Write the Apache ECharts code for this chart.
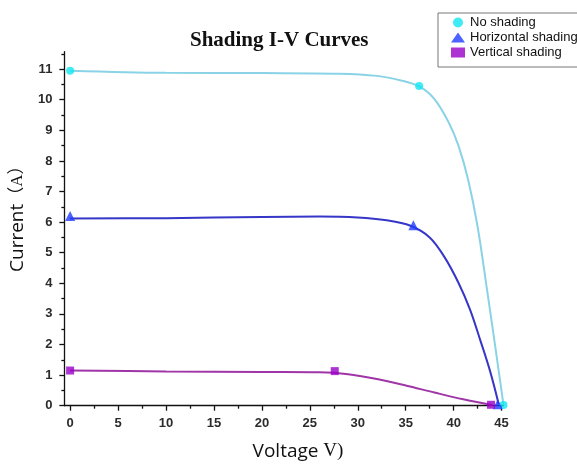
<!DOCTYPE html>
<html>
<head>
<meta charset="utf-8">
<script src="https://cdn.jsdelivr.net/npm/echarts@6/dist/echarts.min.js"></script>
<style>
  html, body { margin: 0; padding: 0; background: #fff; }
  #chart { width: 577px; height: 466px; }
</style>
</head>
<body>
<div id="chart"></div>
<script>
// 坐标刻度
const xTicks = [0, 5, 10, 15, 20, 25, 30, 35, 40, 45]
const xMinorTicks = [2.5, 7.5, 12.5, 17.5, 22.5, 27.5, 32.5, 37.5, 42.5]
const yTicks = [0, 1, 2, 3, 4, 5, 6, 7, 8, 9, 10, 11]
const yMinorTicks = [0.5, 1.5, 2.5, 3.5, 4.5, 5.5, 6.5, 7.5, 8.5, 9.5, 10.5, 11.5]

// 曲线 (读自图片)
const noShadeV = [0, 10, 20, 28, 32, 34.5, 36.5, 38, 39.5, 40.5, 41.5, 42.5, 43.5, 44.4, 45.2]
const noShadeI = [10.95, 10.88, 10.87, 10.85, 10.78, 10.63, 10.42, 10.02, 9.25, 8.5, 7.4, 5.85, 3.75, 1.8, 0.02]
const horizV = [0, 10, 20, 26, 30, 33, 35.5, 37.5, 39, 40.5, 41.7, 42.8, 43.8, 44.7]
const horizI = [6.12, 6.13, 6.17, 6.18, 6.15, 6.06, 5.88, 5.5, 4.88, 4.02, 3.15, 2.12, 1.13, 0.05]
const vertV = [0, 10, 20, 26, 29, 32, 35, 38, 41, 44]
const vertI = [1.15, 1.12, 1.1, 1.09, 1.03, 0.87, 0.66, 0.43, 0.21, 0.02]

// 测量点
const noShadeMarkV = [0, 36.4, 45.2]
const noShadeMarkI = [10.95, 10.45, 0.02]
const horizMarkV = [0, 35.8, 44.6]
const horizMarkI = [6.2, 5.9, 0.05]
const vertMarkV = [0, 27.6, 43.9]
const vertMarkI = [1.15, 1.13, 0.03]

const pairs = (xs, ys) => xs.map((x, i) => [x, ys[i]])

const X_MIN = -0.6
const X_MAX = 45.2
const Y_MIN = 0
const Y_MAX = 11.57
const labelFont = { color: '#2b2b2b', fontSize: 13, fontWeight: 'bold', fontFamily: 'Liberation Sans, Arial, sans-serif' }
const axisColor = '#111'

const myChart = echarts.init(document.getElementById('chart'))

const lineSeries = (data, color) => ({
  type: 'line',
  data: data,
  smooth: 0.35,
  showSymbol: false,
  symbol: 'none',
  lineStyle: { color: color, width: 2 },
  z: 2
})

const markSeries = (name, data, symbol, size, color) => ({
  name: name,
  type: 'scatter',
  data: data,
  symbol: symbol,
  symbolSize: size,
  itemStyle: { color: color },
  clip: false,
  z: 3
})

const option = {
  animation: false,
  backgroundColor: '#fff',
  title: {
    text: 'Shading I-V Curves',
    left: 190,
    top: 30,
    padding: 0,
    textStyle: { fontFamily: 'Liberation Serif, Times New Roman, serif', fontWeight: 'bold', fontSize: 21, color: '#111' }
  },
  legend: {
    orient: 'vertical',
    left: 438,
    top: 13,
    padding: [3, 10, 8, 13],
    itemGap: 2,
    itemWidth: 14,
    itemHeight: 10,
    backgroundColor: '#fff',
    borderColor: '#777',
    borderWidth: 1,
    borderRadius: 0,
    textStyle: { fontSize: 13, color: '#111', fontFamily: 'Liberation Sans, Arial, sans-serif' },
    data: ['No shading', 'Horizontal shading', 'Vertical shading']
  },
  grid: { left: 64, right: 73.5, top: 51.7, bottom: 60.3, containLabel: false },
  xAxis: [{
    type: 'value',
    min: X_MIN,
    max: X_MAX,
    name: '{a|Voltage}{b| V)}',
    nameLocation: 'middle',
    nameGap: 36,
    nameTextStyle: {
      padding: [0, 0, 0, 28],
      rich: {
        a: { fontFamily: 'Open Sans, Liberation Sans, sans-serif', fontSize: 19, color: '#111' },
        b: { fontFamily: 'Liberation Serif, serif', fontSize: 19, color: '#111' }
      }
    },
    axisLine: { show: true, onZero: false, lineStyle: { color: axisColor, width: 1.3 } },
    axisTick: { show: true, length: 5, customValues: xTicks, lineStyle: { color: axisColor, width: 1.3 } },
    axisLabel: { margin: 11, customValues: xTicks, ...labelFont },
    splitLine: { show: false }
  }, {
    type: 'value',
    min: X_MIN,
    max: X_MAX,
    position: 'bottom',
    axisLine: { show: false, onZero: false },
    axisTick: { show: true, length: 3, customValues: xMinorTicks, lineStyle: { color: axisColor, width: 1.3 } },
    axisLabel: { show: false },
    splitLine: { show: false }
  }],
  yAxis: [{
    type: 'value',
    min: Y_MIN,
    max: Y_MAX,
    name: '{a|Current}{b|（A）}',
    nameLocation: 'middle',
    nameGap: 30,
    nameTextStyle: {
      padding: [0, 0, 0, 28],
      rich: {
        a: { fontFamily: 'Open Sans, Liberation Sans, sans-serif', fontSize: 19, color: '#111' },
        b: { fontFamily: 'Liberation Serif, Noto Sans CJK SC, serif', fontSize: 17, color: '#111' }
      }
    },
    axisLine: { show: true, onZero: false, lineStyle: { color: axisColor, width: 1.3 } },
    axisTick: { show: true, length: 5, customValues: yTicks, lineStyle: { color: axisColor, width: 1.3 } },
    axisLabel: { margin: 12, customValues: yTicks, ...labelFont },
    splitLine: { show: false }
  }, {
    type: 'value',
    min: Y_MIN,
    max: Y_MAX,
    position: 'left',
    axisLine: { show: false, onZero: false },
    axisTick: { show: true, length: 3, customValues: yMinorTicks, lineStyle: { color: axisColor, width: 1.3 } },
    axisLabel: { show: false },
    splitLine: { show: false }
  }],
  series: [
    lineSeries(pairs(noShadeV, noShadeI), '#8ad3e6'),
    lineSeries(pairs(horizV, horizI), '#3636c8'),
    lineSeries(pairs(vertV, vertI), '#a035a8'),
    markSeries('No shading', pairs(noShadeMarkV, noShadeMarkI), 'circle', 8, '#12e6f0'),
    markSeries('Horizontal shading', pairs(horizMarkV, horizMarkI), 'triangle', 10, '#1f3cff'),
    markSeries('Vertical shading', pairs(vertMarkV, vertMarkI), 'rect', 8, '#9a00c8')
  ]
}
myChart.setOption(option)
</script>
</body>
</html>
